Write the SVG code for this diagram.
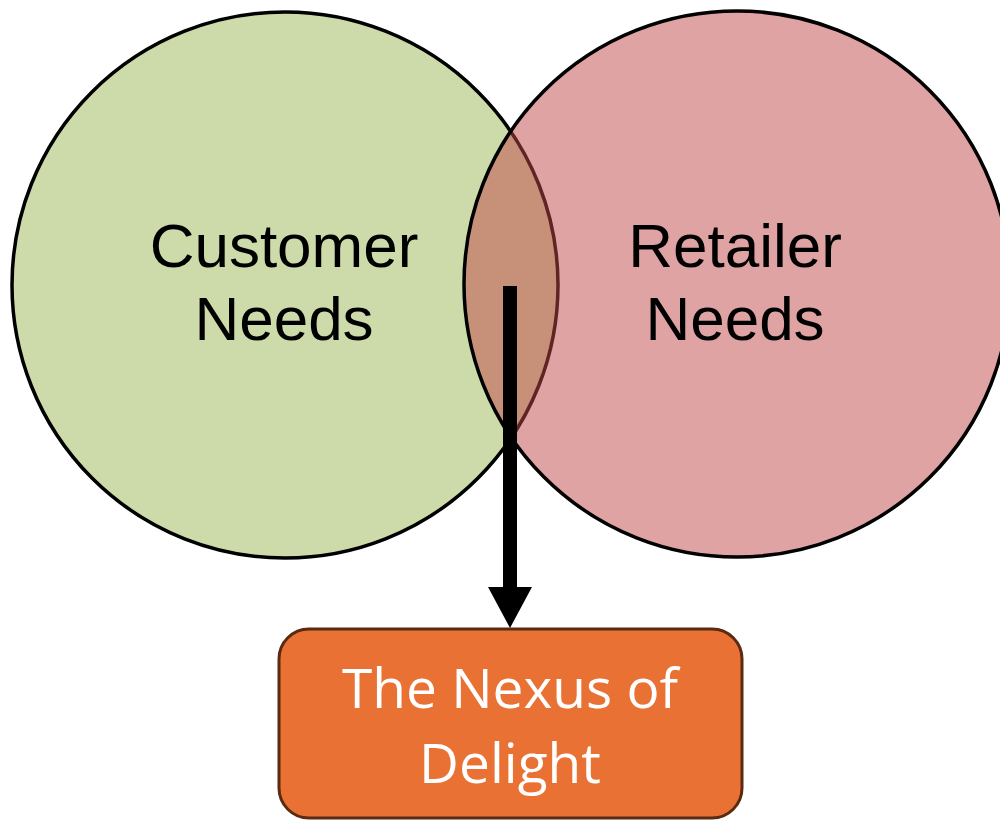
<svg xmlns="http://www.w3.org/2000/svg" width="1000" height="823" viewBox="0 0 1000 823">
  <style>
    .circle { stroke: #000; stroke-width: 3.5; }
    .label { font-family: "Liberation Sans", Arial, sans-serif; font-size: 62px; fill: #000; text-anchor: middle; }
    .box { fill: #E87133; stroke: #5A2A12; stroke-width: 3; }
    .boxlabel { font-family: "Open Sans", "Noto Sans", sans-serif; font-size: 55px; fill: #fff; text-anchor: middle; }
    .link { stroke: #000; stroke-width: 14; fill: none; }
  </style>
  <defs>
    <!-- solid triangular head; base sits on the end of the shaft -->
    <marker id="head" viewBox="0 0 41 44" refX="0" refY="22" markerWidth="41" markerHeight="44" markerUnits="userSpaceOnUse" orient="auto">
      <path d="M0,0 L41,22 L0,44 Z" fill="#000"/>
    </marker>
  </defs>
  <rect width="1000" height="823" fill="#fff"/>

  <g id="customer-needs">
    <circle class="circle" cx="285" cy="285" r="273" fill="#CCDBA9"/>
    <text class="label" x="284" y="267">Customer</text>
    <text class="label" x="284" y="340">Needs</text>
  </g>

  <g id="retailer-needs">
    <!-- half-transparent fill so the overlap blends into the lens colour -->
    <circle class="circle" cx="737" cy="284" r="273" fill="#BF4747" fill-opacity="0.5"/>
    <text class="label" x="735" y="267">Retailer</text>
    <text class="label" x="735" y="340">Needs</text>
  </g>

  <g id="connectors">
    <line class="link" x1="510" y1="286" x2="510" y2="587" marker-end="url(#head)"/>
  </g>

  <g id="nexus-of-delight">
    <rect class="box" x="279" y="629" width="463" height="189" rx="30" ry="30"/>
    <text class="boxlabel" x="510" y="708">The Nexus of</text>
    <text class="boxlabel" x="510" y="783">Delight</text>
  </g>
</svg>
